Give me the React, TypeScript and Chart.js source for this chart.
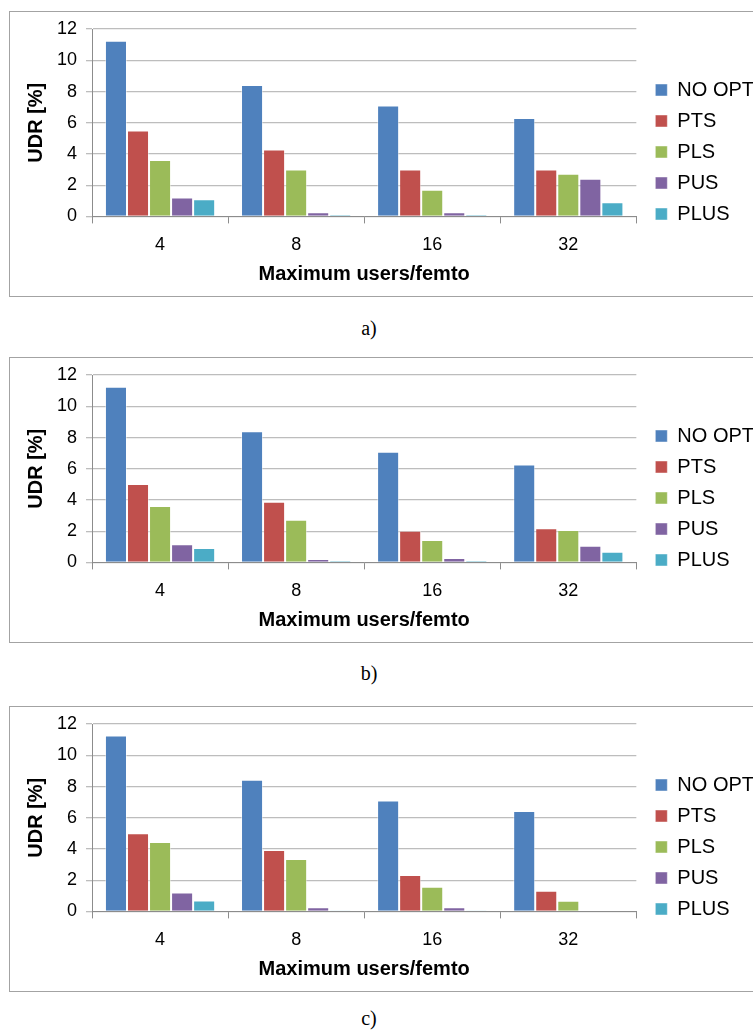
import React, { useEffect, useRef } from "react";
import { Chart, registerables } from "chart.js";

Chart.register(...registerables);

// ---- data ----
const categories = ["4", "8", "16", "32"];
const seriesNames = ["NO OPT", "PTS", "PLS", "PUS", "PLUS"];
const seriesColors = ["#4F81BD", "#C0504D", "#9BBB59", "#8064A2", "#4BACC6"];
const yTickMin = 0;
const yTickMax = 12;
const yTickStep = 2;
const xTitle = "Maximum users/femto";
const yTitle = "UDR [%]";
const captions = ["a)", "b)", "c)"];

// panel a)
const noOptA = [11.25, 8.42, 7.1, 6.31];
const ptsA = [5.5, 4.28, 3.0, 3.0];
const plsA = [3.62, 3.0, 1.7, 2.73];
const pusA = [1.21, 0.26, 0.26, 2.41];
const plusA = [1.1, 0.1, 0.1, 0.9];

// panel b)
const noOptB = [11.25, 8.41, 7.09, 6.28];
const ptsB = [5.02, 3.89, 2.03, 2.18];
const plsB = [3.61, 2.73, 1.43, 2.07];
const pusB = [1.17, 0.21, 0.28, 1.07];
const plusB = [0.92, 0.09, 0.09, 0.68];

// panel c)
const noOptC = [11.27, 8.44, 7.1, 6.44];
const ptsC = [5.01, 3.94, 2.34, 1.32];
const plsC = [4.45, 3.35, 1.58, 0.68];
const pusC = [1.21, 0.26, 0.26, 0];
const plusC = [0.7, 0.06, 0.06, 0];

const panelSeries = [
  [noOptA, ptsA, plsA, pusA, plusA],
  [noOptB, ptsB, plsB, pusB, plusB],
  [noOptC, ptsC, plsC, pusC, plusC],
];

// ---- layout (not data) ----
const FONT = "'Liberation Sans', Arial, Helvetica, sans-serif";
const panelTops = [11, 357, 706];
const captionCenters = [328, 673, 1018];
const BOX_H = 286;
const CANVAS_W = 770;
const CANVAS_H = BOX_H - 2;

function Panel({ series, top }: { series: number[][]; top: number }) {
  const ref = useRef<HTMLCanvasElement | null>(null);
  useEffect(() => {
    if (!ref.current) return;
    const chart = new Chart(ref.current, {
      type: "bar",
      data: {
        labels: categories,
        datasets: seriesNames.map((name, i) => ({
          label: name,
          data: series[i],
          backgroundColor: seriesColors[i],
          borderColor: "rgba(255,255,255,0.45)",
          borderWidth: 1,
          categoryPercentage: 0.81,
          barPercentage: 1.0,
        })),
      },
      options: {
        animation: false,
        responsive: false,
        maintainAspectRatio: false,
        devicePixelRatio: 1,
        layout: { padding: { left: 6, top: -4, right: 16, bottom: 0 } },
        plugins: {
          legend: {
            position: "right",
            align: "center",
            labels: {
              boxWidth: 12,
              boxHeight: 12,
              padding: 11,
              color: "#000",
              font: { family: FONT, size: 20 },
            },
          },
          tooltip: { enabled: false },
        },
        scales: {
          x: {
            grid: {
              drawOnChartArea: false,
              drawTicks: true,
              tickLength: 7,
              color: "#8c8c8c",
              offset: true,
            },
            border: { color: "#8c8c8c", width: 1 },
            ticks: { color: "#000", font: { family: FONT, size: 18 }, padding: 11 },
            title: {
              display: true,
              text: xTitle,
              color: "#000",
              font: { family: FONT, size: 20, weight: "bold" },
              padding: { top: -5, bottom: 10 },
            },
          },
          y: {
            min: yTickMin,
            max: yTickMax,
            ticks: {
              stepSize: yTickStep,
              color: "#000",
              font: { family: FONT, size: 18, lineHeight: 0.9 },
              padding: 9,
            },
            grid: { color: "#bdbdbd", lineWidth: 1.3, drawTicks: true, tickLength: 6 },
            border: { color: "#8c8c8c", width: 1 },
            title: {
              display: true,
              text: yTitle,
              color: "#000",
              font: { family: FONT, size: 20, weight: "bold" },
              padding: { top: 8, bottom: 0 },
            },
          },
          gap: {
            type: "linear",
            position: "right",
            display: true,
            grid: { display: false, drawTicks: false },
            ticks: { display: false },
            border: { display: false },
            afterFit: (s: any) => {
              s.width = 8;
            },
          },
        },
      } as any,
    });
    return () => chart.destroy();
  }, [series]);

  return (
    <div
      style={{
        position: "absolute",
        left: 9,
        top,
        width: 790,
        height: BOX_H,
        boxSizing: "border-box",
        border: "1px solid #a3a3a3",
        background: "#fff",
      }}
    >
      <canvas
        ref={ref}
        width={CANVAS_W}
        height={CANVAS_H}
        style={{ display: "block", width: CANVAS_W, height: CANVAS_H }}
      />
    </div>
  );
}

export default function App() {
  return (
    <div
      style={{
        position: "fixed",
        left: 0,
        top: 0,
        width: 753,
        height: 1031,
        overflow: "hidden",
        background: "#fff",
      }}
    >
      {panelSeries.map((s, i) => (
        <Panel key={i} series={s} top={panelTops[i]} />
      ))}
      {captions.map((c, i) => (
        <div
          key={c}
          style={{
            position: "absolute",
            left: 0,
            width: 738,
            top: captionCenters[i] - 12,
            height: 24,
            lineHeight: "24px",
            textAlign: "center",
            fontFamily: "'Liberation Serif', 'Times New Roman', serif",
            fontSize: 20,
            color: "#000",
          }}
        >
          {c}
        </div>
      ))}
    </div>
  );
}
